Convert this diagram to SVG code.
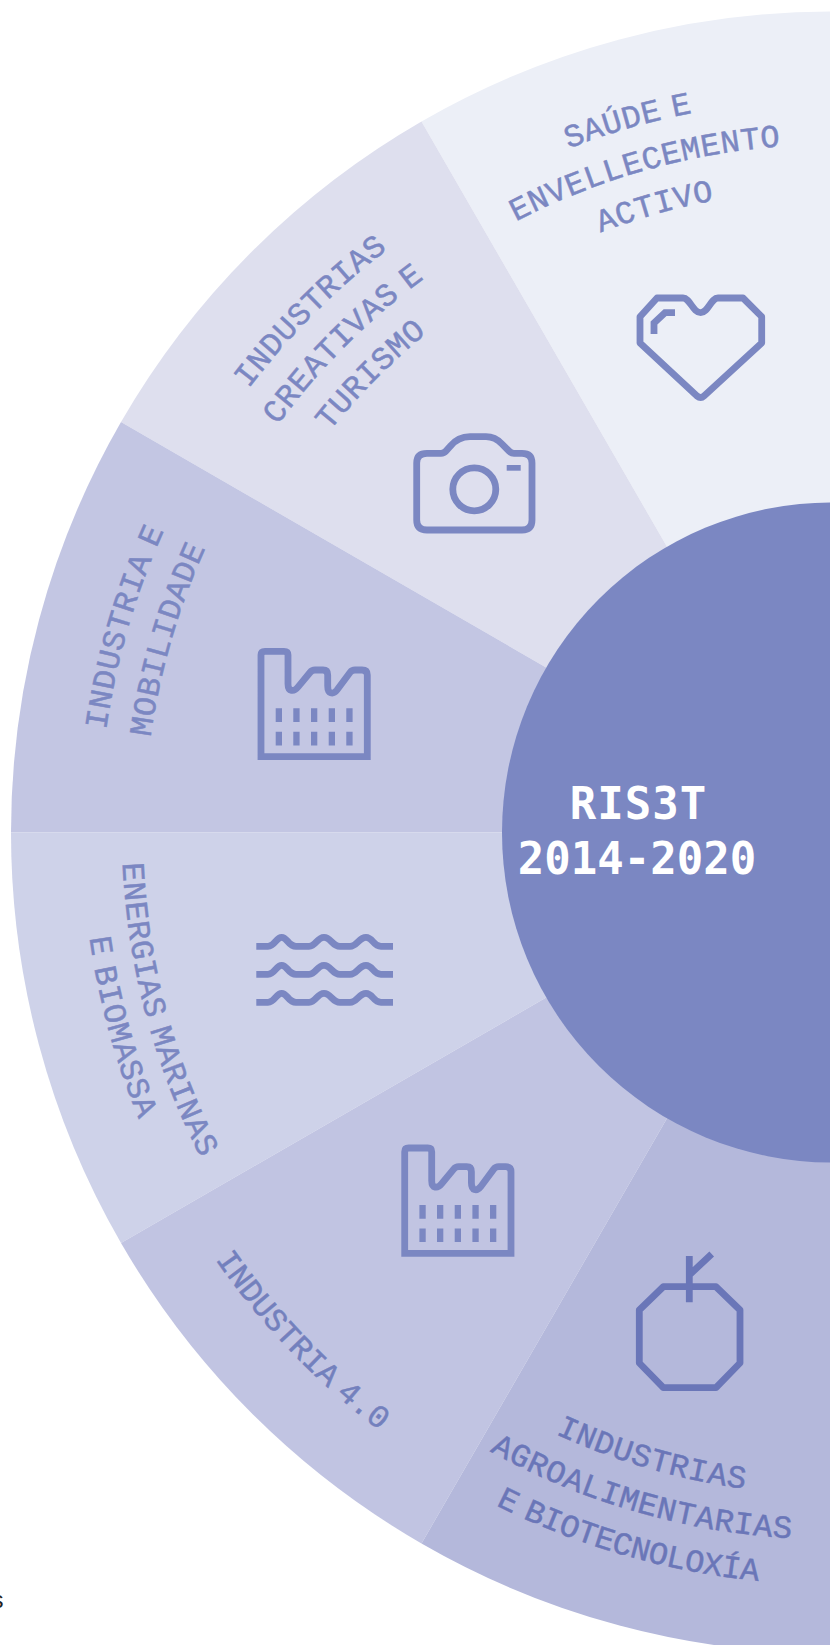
<svg xmlns="http://www.w3.org/2000/svg" width="830" height="1645" viewBox="0 0 830 1645">
<style>
.lab{font-family:"Liberation Mono","DejaVu Sans Mono",monospace;font-size:32px;letter-spacing:.6px;word-spacing:-9px;fill:#7B87C2;stroke:#7B87C2;stroke-width:.5px;text-anchor:middle}
.dark{fill:#6A76B8;stroke:#6A76B8}
.mid{fill:#7380BD;stroke:#7380BD}
.ico{fill:none;stroke:#7B87C2;stroke-width:6.8;stroke-linejoin:round}
.sq{stroke-linejoin:miter}
.win{fill:#7B87C2}
.title{font-family:"DejaVu Sans Mono","Liberation Mono",monospace;font-weight:700;font-size:44px;fill:#fff;text-anchor:middle}
</style>
<defs>
<path id="t643" d="M510.5 275.7A643 643 0 0 1 1153.5 275.7"/>
<path id="t688" d="M488 236.7A688 688 0 0 1 1176 236.7"/>
<path id="t733" d="M465.5 197.7A733 733 0 0 1 1198.5 197.7"/>
<path id="b662" d="M501 1405.8A662 662 0 0 0 1163 1405.8"/>
<path id="b707" d="M478.5 1444.8A707 707 0 0 0 1185.5 1444.8"/>
<path id="b710" d="M477 1447.4A710 710 0 0 0 1187 1447.4"/>
<path id="b750" d="M457 1482A750 750 0 0 0 1207 1482"/>
<path id="b752" d="M456 1483.8A752 752 0 0 0 1208 1483.8"/>
<g id="factory">
<path class="ico sq" d="M261 756.7V655Q261 651.3 265 651.3H284Q288 651.3 288 655V684C288 692 294 692 298 687L310 672.5Q312 670 315 670H323Q327.7 670 327.7 675V686C327.7 694 333 695 337 690L350 672.5Q352 670 355 670H362Q367.3 670 367.3 675V756.7Z"/>
<path class="win" d="M275.7 708.3h6.3v13.7h-6.3zM293.3 708.3h6.3v13.7h-6.3zM311 708.3h6.3v13.7h-6.3zM328.7 708.3h6.3v13.7h-6.3zM346.3 708.3h6.3v13.7h-6.3zM275.7 731.7h6.3v13.7h-6.3zM293.3 731.7h6.3v13.7h-6.3zM311 731.7h6.3v13.7h-6.3zM328.7 731.7h6.3v13.7h-6.3zM346.3 731.7h6.3v13.7h-6.3z"/>
</g>
<path id="wave" class="ico" d="M256.3 0H268C275 0 276 -9 281.7 -9C287.5 -9 288 0 296 0H309C316 0 317 -9 324 -9C331 -9 332 0 340 0H350C357 0 359 -9 366 -9C373 -9 373 0 381 0H393"/>
</defs>
<rect width="830" height="1645" fill="#fff"/>
<g id="slice-saude">
<path fill="#ECEFF7" d="M832 832.5L421.5 121.5A821 821 0 0 1 832 11.5Z"/>
<text class="lab" transform="rotate(-16 832 832.5)"><textPath href="#t733" startOffset="50%">SAÚDE E</textPath></text>
<text class="lab" transform="rotate(-15.8 832 832.5)"><textPath href="#t688" startOffset="50%">ENVELLECEMENTO</textPath></text>
<text class="lab" transform="rotate(-15.8 832 832.5)"><textPath href="#t643" startOffset="50%">ACTIVO</textPath></text>
<path class="ico" d="M657 298H683C690 298 693 312.7 700.7 312.7C708 312.7 711 298 718 298H743L761.7 316.7V343L704 396Q700.7 399 697 396L640 343V316.7L657 298Z"/>
<path class="ico sq" d="M675 312.7H665L654 323V334"/>
</g>
<g id="slice-creativas">
<path fill="#DEDFEE" d="M832 832.5L121 422A821 821 0 0 1 421.5 121.5Z"/>
<text class="lab" transform="rotate(-45 832 832.5)"><textPath href="#t733" startOffset="50%">INDUSTRIAS</textPath></text>
<text class="lab" transform="rotate(-45 832 832.5)"><textPath href="#t688" startOffset="50%">CREATIVAS E</textPath></text>
<text class="lab" transform="rotate(-45.2 832 832.5)"><textPath href="#t643" startOffset="50%">TURISMO</textPath></text>
<path class="ico" d="M427 453.3H441Q444 453.3 446 451L450 446.5Q458 436.7 470 436.7H486Q495 436.7 502 444L509 451Q511 453.3 514 453.3H522Q532 453.3 532 463V520Q532 530 522 530H427Q416.7 530 416.7 520V463Q416.7 453.3 427 453.3Z"/>
<circle class="ico" cx="474.3" cy="489.3" r="21.5"/>
<rect class="win" x="506.7" y="465" width="14" height="5.7"/>
</g>
<g id="slice-mobilidade">
<path fill="#C3C6E3" d="M832 832.5H11A821 821 0 0 1 121 422Z"/>
<text class="lab" transform="rotate(-73.8 832 832.5)"><textPath href="#t733" startOffset="50%">INDUSTRIA E</textPath></text>
<text class="lab" transform="rotate(-73.8 832 832.5)"><textPath href="#t688" startOffset="50%">MOBILIDADE</textPath></text>
<use href="#factory"/>
</g>
<g id="slice-energias">
<path fill="#CED2E9" d="M832 832.5L121 1243A821 821 0 0 1 11 832.5Z"/>
<text class="lab" transform="rotate(75.1 832 832.5)"><textPath href="#b710" startOffset="50%">ENERGIAS MARINAS</textPath></text>
<text class="lab" transform="rotate(74.7 832 832.5)"><textPath href="#b750" startOffset="50%">E BIOMASSA</textPath></text>
<use href="#wave" y="946.3"/>
<use href="#wave" y="974.3"/>
<use href="#wave" y="1002.3"/>
</g>
<g id="slice-industria40">
<path fill="#C1C4E2" d="M832 832.5L421.5 1543.5A821 821 0 0 1 121 1243Z"/>
<text class="lab mid" style="letter-spacing:-.2px" transform="rotate(46.2 832 832.5)"><textPath href="#b750" startOffset="50%">INDUSTRIA 4.0</textPath></text>
<use href="#factory" x="143.7" y="496.7"/>
</g>
<g id="slice-agro">
<path fill="#B4B8DB" d="M832 832.5V1653.5A821 821 0 0 1 421.5 1543.5Z"/>
<text class="lab dark" transform="rotate(16.1 832 832.5)"><textPath href="#b662" startOffset="50%">INDUSTRIAS</textPath></text>
<text class="lab dark" transform="rotate(16.1 832 832.5)"><textPath href="#b707" startOffset="50%">AGROALIMENTARIAS</textPath></text>
<text class="lab dark" style="letter-spacing:-.4px;word-spacing:-8px" transform="rotate(16.1 832 832.5)"><textPath href="#b752" startOffset="50%">E BIOTECNOLOXÍA</textPath></text>
<path class="ico" style="stroke:#6A76B8" d="M663.3 1286.7H716L740 1310V1363L716 1387.7H663.3L639.3 1363V1310Z"/>
<path class="ico sq" style="stroke:#6A76B8" d="M689.3 1256V1302.3M689.3 1275L711.7 1254"/>
</g>
<g id="hub">
<circle cx="832" cy="832.5" r="330" fill="#7B87C2"/>
<text class="title" style="letter-spacing:1px" x="638.5" y="819">RIS3T</text>
<text class="title" x="637" y="874">2014-2020</text>
</g>
<text x="-8.5" y="1608" font-family="Liberation Sans, sans-serif" font-size="24" fill="#222">s</text>
</svg>
